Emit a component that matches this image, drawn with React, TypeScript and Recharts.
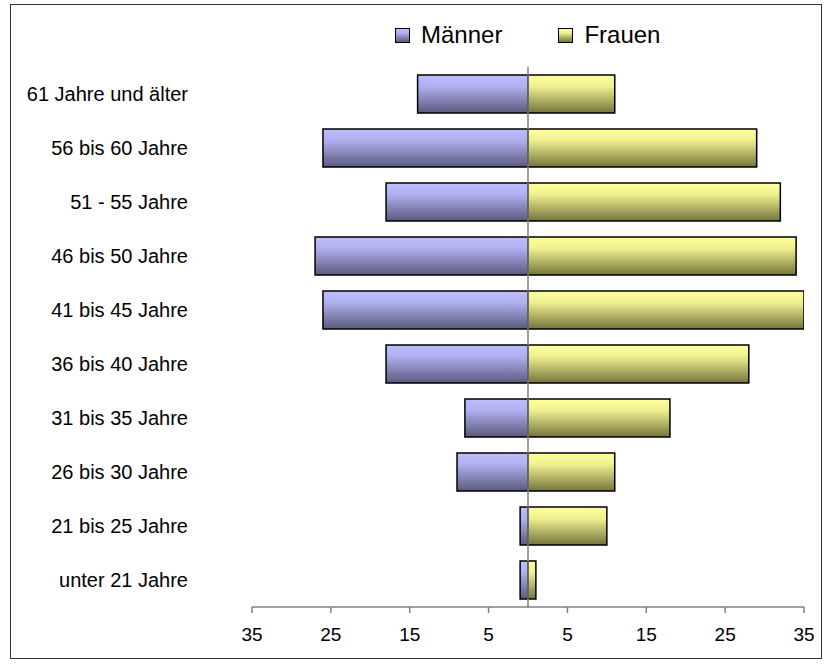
import { Bar, BarChart, ReferenceLine, XAxis, YAxis } from 'recharts'

const ageGroups = [
  '61 Jahre und älter',
  '56 bis 60 Jahre',
  '51 - 55 Jahre',
  '46 bis 50 Jahre',
  '41 bis 45 Jahre',
  '36 bis 40 Jahre',
  '31 bis 35 Jahre',
  '26 bis 30 Jahre',
  '21 bis 25 Jahre',
  'unter 21 Jahre',
]
const maenner = [14, 26, 18, 27, 26, 18, 8, 9, 1, 1]
const frauen = [11, 29, 32, 34, 35, 28, 18, 11, 10, 1]
const xTicks = [-35, -25, -15, -5, 5, 15, 25, 35]
const seriesNames = ['Männer', 'Frauen']

const font = '"Liberation Sans", Arial, sans-serif'

const legendGradients: Record<string, string> = {
  Männer: 'linear-gradient(to bottom, #bdbdff 0%, #b0b0f0 30%, #5a5a7e 100%)',
  Frauen: 'linear-gradient(to bottom, #ffff9c 0%, #f0f090 30%, #74743c 100%)',
}

// legend sits above the plot without taking space from it (like the Excel original)
function PyramidLegend() {
  return (
    <div
      style={{
        position: 'absolute',
        left: 395,
        top: 21,
        display: 'flex',
        alignItems: 'center',
        fontFamily: font,
        fontSize: 24,
        color: '#000',
      }}
    >
      {seriesNames.map((name, i) => (
        <div key={name} style={{ display: 'flex', alignItems: 'center', marginLeft: i === 0 ? 0 : 56 }}>
          <span
            style={{
              display: 'inline-block',
              width: 13,
              height: 13,
              border: '1px solid #000',
              background: legendGradients[name],
              marginRight: 11,
            }}
          />
          <span>{name}</span>
        </div>
      ))}
    </div>
  )
}

export default function App() {
  const data = ageGroups.map((group, i) => ({
    group,
    Männer: -maenner[i],
    Frauen: frauen[i],
  }))

  return (
    <div style={{ position: 'fixed', left: 0, top: 0, width: 832, height: 666, background: '#fff' }}>
      <div
        style={{
          position: 'absolute',
          left: 10,
          top: 4,
          width: 812,
          height: 655,
          border: '1.5px solid #333',
          boxSizing: 'border-box',
        }}
      />
      <BarChart
        width={832}
        height={666}
        data={data}
        layout='vertical'
        stackOffset='sign'
        margin={{ top: 67, right: 28, bottom: 0, left: 0 }}
        style={{ position: 'absolute', left: 0, top: 0 }}
      >
        <defs>
          <linearGradient id='gradM' x1='0' y1='0' x2='0' y2='1'>
            <stop offset='0%' stopColor='#bdbdff' />
            <stop offset='30%' stopColor='#b0b0f0' />
            <stop offset='100%' stopColor='#5a5a7e' />
          </linearGradient>
          <linearGradient id='gradF' x1='0' y1='0' x2='0' y2='1'>
            <stop offset='0%' stopColor='#ffff9c' />
            <stop offset='30%' stopColor='#f0f090' />
            <stop offset='100%' stopColor='#74743c' />
          </linearGradient>
        </defs>
        <XAxis
          type='number'
          domain={[-35, 35]}
          ticks={xTicks}
          tickFormatter={(v: number) => String(Math.abs(v))}
          height={59}
          axisLine={{ stroke: '#808080', strokeWidth: 1.5 }}
          tickLine={{ stroke: '#808080', strokeWidth: 1.5 }}
          tickSize={6}
          tickMargin={15}
          tick={{ fill: '#000', fontSize: 19, fontFamily: font }}
          allowDataOverflow
        />
        <YAxis
          type='category'
          dataKey='group'
          width={252}
          axisLine={false}
          tickLine={false}
          tickSize={0}
          tickMargin={64}
          interval={0}
          tick={{ fill: '#000', fontSize: 20, fontFamily: font }}
        />
        <Bar
          dataKey='Männer'
          stackId='s'
          barSize={38}
          fill='url(#gradM)'
          stroke='#000'
          strokeWidth={1.5}
          isAnimationActive={false}
        />
        <Bar
          dataKey='Frauen'
          stackId='s'
          barSize={38}
          fill='url(#gradF)'
          stroke='#000'
          strokeWidth={1.5}
          isAnimationActive={false}
        />
        <ReferenceLine x={0} stroke='#808080' strokeWidth={1.5} />
      </BarChart>
      <PyramidLegend />
    </div>
  )
}
